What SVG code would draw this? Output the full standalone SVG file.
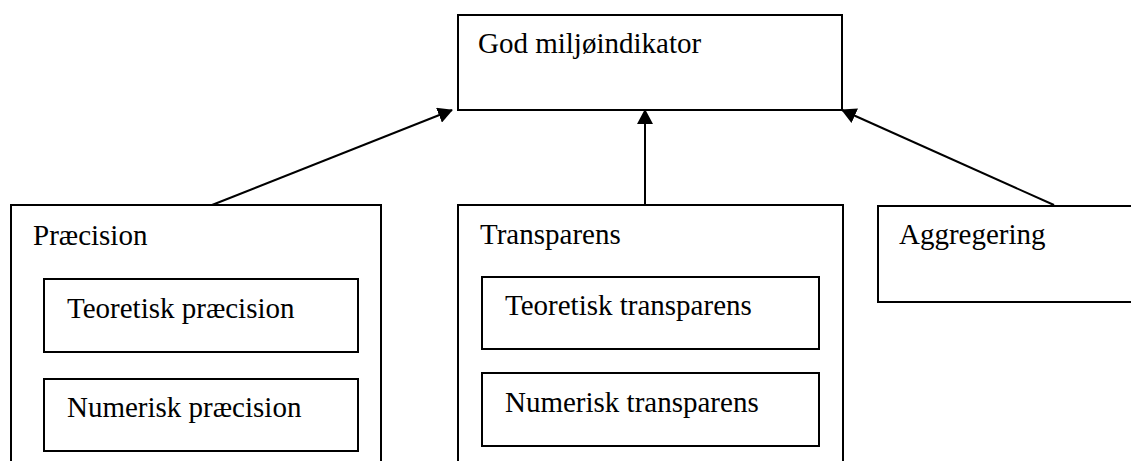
<svg xmlns="http://www.w3.org/2000/svg" width="1131" height="461" viewBox="0 0 1131 461">
<style>
  .box { fill: #fff; stroke: #000; stroke-width: 2; }
  .lbl { font-family: "Liberation Serif", "Times New Roman", serif; font-size: 29px; fill: #000; }
  .conn { stroke: #000; stroke-width: 2; fill: none; }
</style>
<defs>
  <marker id="arr" markerUnits="userSpaceOnUse" markerWidth="15" markerHeight="16" refX="14" refY="8" orient="auto">
    <path d="M0,0 L15,8 L0,16 z" fill="#000"/>
  </marker>
</defs>
<rect width="1131" height="461" fill="#fff"/>
<g id="god">
  <rect class="box" x="458" y="15" width="384" height="95"/>
  <text class="lbl" x="478" y="53">God miljøindikator</text>
</g>
<g id="praecision">
  <rect class="box" x="11" y="205" width="370" height="270"/>
  <text class="lbl" x="33" y="245">Præcision</text>
</g>
<g id="teoretisk-praecision">
  <rect class="box" x="44" y="279" width="314" height="73"/>
  <text class="lbl" x="67" y="318">Teoretisk præcision</text>
</g>
<g id="numerisk-praecision">
  <rect class="box" x="44" y="379" width="314" height="72"/>
  <text class="lbl" x="67" y="417">Numerisk præcision</text>
</g>
<g id="transparens">
  <rect class="box" x="458" y="205" width="385" height="270"/>
  <text class="lbl" x="480" y="244">Transparens</text>
</g>
<g id="teoretisk-transparens">
  <rect class="box" x="482" y="277" width="337" height="72"/>
  <text class="lbl" x="505" y="315">Teoretisk transparens</text>
</g>
<g id="numerisk-transparens">
  <rect class="box" x="482" y="373" width="337" height="73"/>
  <text class="lbl" x="505" y="412">Numerisk transparens</text>
</g>
<g id="aggregering">
  <rect class="box" x="878" y="206" width="260" height="96"/>
  <text class="lbl" x="899" y="244">Aggregering</text>
</g>
<g id="connectors">
  <line class="conn" x1="212" y1="205" x2="452" y2="110" marker-end="url(#arr)"/>
  <line class="conn" x1="645" y1="205" x2="645" y2="110" marker-end="url(#arr)"/>
  <line class="conn" x1="1054" y1="205" x2="842" y2="110" marker-end="url(#arr)"/>
</g>
</svg>
